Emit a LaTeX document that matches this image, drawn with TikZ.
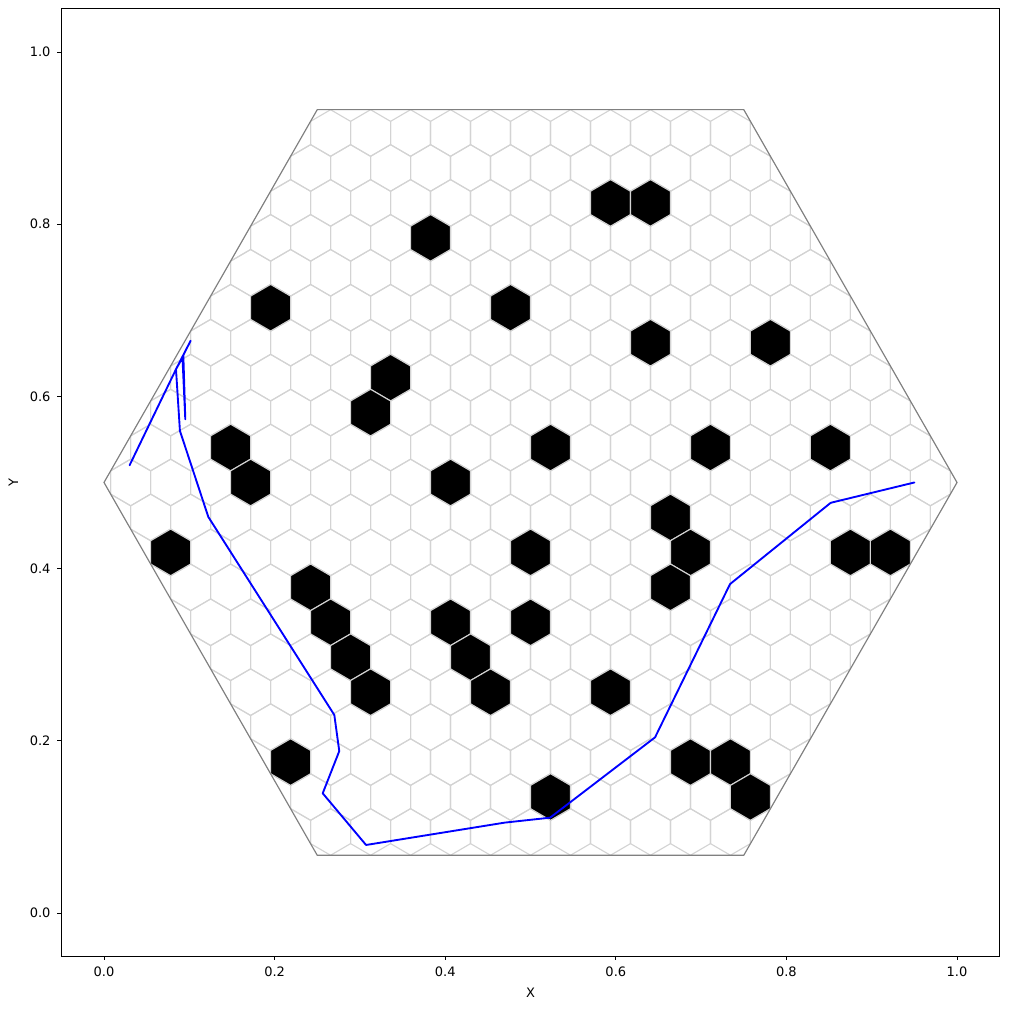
\documentclass[tikz,border=0pt]{standalone}
\usepackage{fontspec}
\setmainfont{DejaVu Sans}
\begin{document}
\begin{tikzpicture}[x=0.254mm,y=0.254mm,
  gridhex/.style={draw={rgb,255:red,211;green,211;blue,211},line width=0.8pt,line join=miter},
  blackhex/.style={fill=black,draw={rgb,255:red,211;green,211;blue,211},line width=0.8pt},
  outline/.style={draw={rgb,255:red,128;green,128;blue,128},line width=0.85pt},
  pathline/.style={draw={rgb,255:red,0;green,0;blue,255},line width=1.35pt,line join=round,line cap=round},
  spine/.style={draw=black,line width=0.65pt},
  ticklab/.style={inner sep=0pt,font=\fontsize{9.4}{11}\selectfont},
  axlab/.style={inner sep=0pt,font=\fontsize{9.4}{11}\selectfont}]
\useasboundingbox (0,0) rectangle (1009,1009);
\fill[white] (0,0) rectangle (1009,1009);
\begin{scope}[shift={(26.416mm,24.384mm)},x=216.662mm,y=218.694mm]
  \def\r{0.0270633}
  \begin{scope}
    \clip (0,0.5) -- (0.25,0.0669873) -- (0.75,0.0669873) -- (1,0.5) -- (0.75,0.9330127) -- (0.25,0.9330127) -- cycle;
    \foreach \j in {-10,...,10}{
      \foreach \k in {-11,...,11}{
        \pgfmathsetmacro\cx{0.5+(\k+0.5*mod(abs(\j),2))*0.046875}
        \pgfmathsetmacro\cy{0.5+\j*0.0405949}
        \draw[gridhex] (\cx,\cy) +(90:\r) -- +(30:\r) -- +(-30:\r) -- +(-90:\r) -- +(-150:\r) -- +(150:\r) -- cycle;
      }
    }
    \foreach \m/\j in {4/8,6/8,-5/7,-13/5,-1/5,6/4,12/4,-7/3,-8/2,-15/1,1/1,9/1,15/1,-14/0,-4/0,7/-1,8/-2,-18/-2,0/-2,16/-2,18/-2,-11/-3,7/-3,-10/-4,-4/-4,0/-4,-9/-5,-3/-5,-8/-6,-2/-6,4/-6,-12/-8,8/-8,10/-8,1/-9,11/-9}{
      \pgfmathsetmacro\cx{0.5+\m*0.0234375}
      \pgfmathsetmacro\cy{0.5+\j*0.0405949}
      \draw[blackhex] (\cx,\cy) +(90:\r) -- +(30:\r) -- +(-30:\r) -- +(-90:\r) -- +(-150:\r) -- +(150:\r) -- cycle;
    }
  \end{scope}
  \draw[outline] (0,0.5) -- (0.25,0.0669873) -- (0.75,0.0669873) -- (1,0.5) -- (0.75,0.9330127) -- (0.25,0.9330127) -- cycle;
  \draw[pathline] (0.03,0.52) -- (0.0844,0.6315) -- (0.1016,0.6647) -- (0.0930,0.648) -- (0.0953,0.5734) -- (0.0920,0.645) -- (0.0844,0.6315) -- (0.089,0.56) -- (0.1223,0.460) -- (0.270,0.230) -- (0.2758,0.188) -- (0.2564,0.139) -- (0.3072,0.079) -- (0.47,0.105) -- (0.5229,0.1107) -- (0.646,0.204) -- (0.7339,0.382) -- (0.8519,0.4764) -- (0.95,0.5);
  % axes
  \draw[spine] (-0.05,-0.05) rectangle (1.05,1.05);
  \foreach \t/\l/\n in {0/0.0/a,0.2/0.2/b,0.4/0.4/c,0.6/0.6/d,0.8/0.8/e,1/1.0/f}{
    \draw[spine] (\t,-0.05) -- ++(0,-1.05mm);
    \node[ticklab] (xt\n) at ([yshift=-4.06mm]\t,-0.05) {\l};
    \draw[spine] (-0.05,\t) -- ++(-1.05mm,0);
    \node[ticklab,anchor=east] (yt\n) at ([xshift=-2.7mm]-0.05,\t) {\l};
  }
  \node[axlab] (xlab) at ([yshift=-9.4mm]0.5,-0.05) {X};
  \node[axlab,rotate=90] (ylab) at ([xshift=-12.2mm]-0.05,0.5) {Y};
\end{scope}
\end{tikzpicture}
\end{document}
